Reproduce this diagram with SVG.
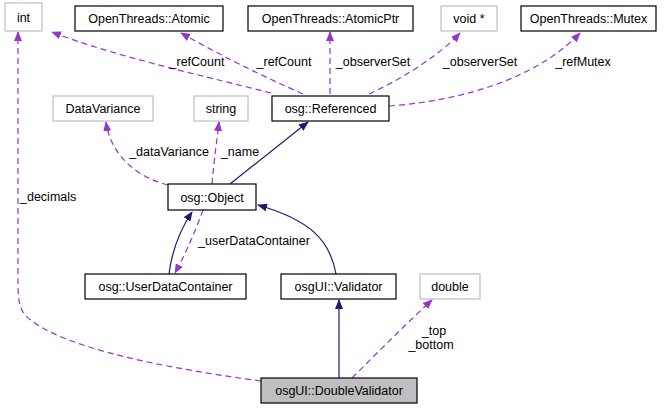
<svg xmlns="http://www.w3.org/2000/svg" width="670" height="409" viewBox="0 0 670 409">
<style>
text{font-family:"Liberation Sans",Arial,sans-serif;font-size:12.5px;fill:#000}
.n text{text-anchor:middle}
.b{fill:#fff;stroke:#000;stroke-width:1.2}
.g{fill:#fff;stroke:#bfbfbf;stroke-width:1.2}
.s{fill:none;stroke:#191970;stroke-width:1.2}
.d{fill:none;stroke:#9a32cd;stroke-width:1.2;stroke-dasharray:6,4}
.l{text-anchor:middle}
</style>
<defs>
<marker id="ab" markerWidth="10" markerHeight="8" refX="9" refY="4" orient="auto" markerUnits="userSpaceOnUse"><path d="M0,0 L10,4 L0,8 z" fill="#191970"/></marker>
<marker id="ap" markerWidth="10" markerHeight="8" refX="9" refY="4" orient="auto" markerUnits="userSpaceOnUse"><path d="M0,0 L10,4 L0,8 z" fill="#9a32cd"/></marker>
</defs>
<rect width="670" height="409" fill="#fff"/>
<g id="connectors">
<path class="s" d="M230,184 L308,122" marker-end="url(#ab)"/>
<path class="s" d="M169,274 C172,250 180,230 192,212" marker-end="url(#ab)"/>
<path class="s" d="M336,274 C330,240 310,220 258,205" marker-end="url(#ab)"/>
<path class="s" d="M339,378 L339,300" marker-end="url(#ab)"/>
<path class="d" d="M271,93 C200,75 110,55 52,32" marker-end="url(#ap)"/>
<path class="d" d="M303,94 C260,75 220,55 181,33" marker-end="url(#ap)"/>
<path class="d" d="M330,94 L330,32" marker-end="url(#ap)"/>
<path class="d" d="M369,94 C400,80 440,55 460,33" marker-end="url(#ap)"/>
<path class="d" d="M389,106 C470,100 540,75 580,33" marker-end="url(#ap)"/>
<path class="d" d="M168,185 C130,175 110,150 106,122" marker-end="url(#ap)"/>
<path class="d" d="M212,184 C214,160 217,140 219,122" marker-end="url(#ap)"/>
<path class="d" d="M203,210 C195,232 185,255 175,273" marker-end="url(#ap)"/>
<path class="d" d="M261,381 C180,370 60,350 25,315 C17,305 18,290 18,270 L18,32" marker-end="url(#ap)"/>
<path class="d" d="M352,378 C380,350 405,325 432,300" marker-end="url(#ap)"/>
<text x="197" y="66" class="l">_refCount</text>
<text x="284" y="66" class="l">_refCount</text>
<text x="373" y="66" class="l">_observerSet</text>
<text x="480" y="66" class="l">_observerSet</text>
<text x="583" y="66" class="l">_refMutex</text>
<text x="169" y="156" class="l">_dataVariance</text>
<text x="240" y="156" class="l">_name</text>
<text x="254" y="245" class="l">_userDataContainer</text>
<text x="20" y="201">_decimals</text>
<text x="434" y="335" class="l">_top</text>
<text x="431" y="349" class="l">_bottom</text>
</g>
<g id="int" class="n"><rect class="g" x="5" y="3" width="37" height="28"/><text x="23.5" y="22">int</text></g>
<g id="atomic" class="n"><rect class="b" x="75" y="6" width="148" height="25"/><text x="149" y="23">OpenThreads::Atomic</text></g>
<g id="atomicptr" class="n"><rect class="b" x="248" y="6" width="165" height="25"/><text x="330.5" y="23">OpenThreads::AtomicPtr</text></g>
<g id="voidp" class="n"><rect class="g" x="441" y="6" width="56" height="25"/><text x="469" y="23">void *</text></g>
<g id="mutex" class="n"><rect class="b" x="521" y="6" width="135" height="25"/><text x="588.5" y="23">OpenThreads::Mutex</text></g>
<g id="datavariance" class="n"><rect class="g" x="53" y="96" width="100" height="25"/><text x="103" y="113">DataVariance</text></g>
<g id="string" class="n"><rect class="g" x="194" y="96" width="54" height="25"/><text x="221" y="113">string</text></g>
<g id="referenced" class="n"><rect class="b" x="272" y="96" width="117" height="25"/><text x="330.5" y="113">osg::Referenced</text></g>
<g id="object" class="n"><rect class="b" x="168" y="184" width="88" height="26"/><text x="212" y="202">osg::Object</text></g>
<g id="udc" class="n"><rect class="b" x="85" y="274" width="161" height="25"/><text x="165.5" y="291">osg::UserDataContainer</text></g>
<g id="validator" class="n"><rect class="b" x="281" y="274" width="115" height="25"/><text x="338.5" y="291">osgUI::Validator</text></g>
<g id="double" class="n"><rect class="g" x="420" y="274" width="60" height="25"/><text x="450" y="291">double</text></g>
<g id="doublevalidator" class="n"><rect x="261" y="378" width="156" height="25" fill="#bfbfbf" stroke="#000" stroke-width="1.2"/><text x="339" y="395">osgUI::DoubleValidator</text></g>
</svg>
